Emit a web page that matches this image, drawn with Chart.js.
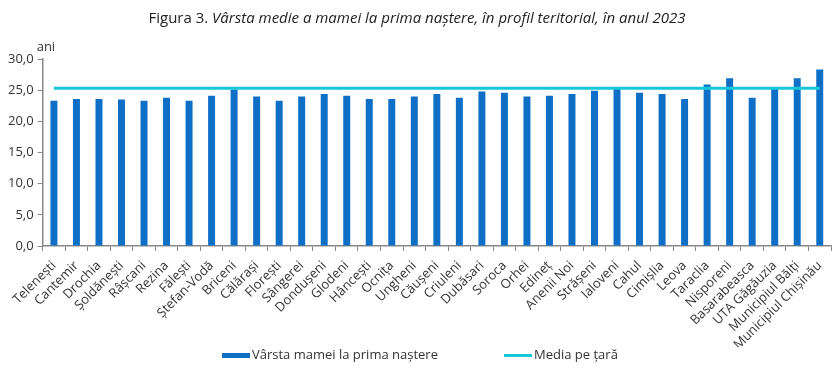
<!DOCTYPE html>
<html>
<head>
<meta charset="utf-8">
<script src="https://cdn.jsdelivr.net/npm/chart.js@4"></script>
<style>
    html, body { margin: 0; padding: 0; background: #fff; }
    #wrap { position: relative; width: 834px; height: 368px; }
    #title {
        position: absolute; top: 7px; left: 0; width: 834px; text-align: center;
        font-family: "Open Sans", sans-serif; font-size: 15px; color: #222;
    }
    #title i { font-style: italic; }
    #legend {
        position: absolute; top: 345px; left: 0; width: 834px; height: 20px;
        font-family: "Open Sans", sans-serif; font-size: 13px; color: #333;
    }
    .item { position: absolute; top: 0; line-height: 18px; white-space: nowrap; }
    .sw { display: inline-block; width: 28px; vertical-align: middle; margin-right: 2px; }
</style>
</head>
<body>
<div id="wrap">
    <div id="title">Figura 3. <i>Vârsta medie a mamei la prima naștere, în profil teritorial, în anul 2023</i></div>
    <canvas id="myChart" width="834" height="368"></canvas>
    <div id="legend"></div>
</div>
<script>
// Regions (raioane) in the order shown on the chart
const regions = [
    'Telenești', 'Cantemir', 'Drochia', 'Șoldănești', 'Râșcani', 'Rezina', 'Fălești',
    'Ștefan-Vodă', 'Briceni', 'Călărași', 'Florești', 'Sângerei', 'Dondușeni', 'Glodeni',
    'Hâncești', 'Ocnița', 'Ungheni', 'Căușeni', 'Criuleni', 'Dubăsari', 'Soroca', 'Orhei',
    'Edineț', 'Anenii Noi', 'Strășeni', 'Ialoveni', 'Cahul', 'Cimișlia', 'Leova', 'Taraclia',
    'Nisporeni', 'Basarabeasca', 'UTA Găgăuzia', 'Municipiul Bălți', 'Municipiul Chișinău'
];

// Mean age of mother at first birth (years)
const motherAge = [
    23.3, 23.6, 23.6, 23.5, 23.3, 23.8, 23.3,
    24.1, 25.1, 24.0, 23.3, 24.0, 24.4, 24.1,
    23.6, 23.6, 24.0, 24.4, 23.8, 24.8, 24.6, 24.0,
    24.1, 24.4, 24.9, 25.2, 24.6, 24.4, 23.6, 25.9,
    26.9, 23.8, 25.2, 26.9, 28.3
];

// Country average
const countryMean = 25.3;

const yTicks = [0, 5, 10, 15, 20, 25, 30];

const FONT = '"Open Sans", sans-serif';
const BAR_COLOR = '#0F6FC6';
const LINE_COLOR = '#17C8D8';

// small plugin for the "ani" unit label above the y axis
const unitLabel = {
    id: 'unitLabel',
    afterDraw(chart) {
        const c = chart.ctx;
        const area = chart.chartArea;
        c.save();
        c.font = '13px ' + FONT;
        c.fillStyle = '#333';
        c.textAlign = 'left';
        c.textBaseline = 'bottom';
        c.fillText('ani', area.left - 6, area.top - 5);
        c.restore();
    }
};

const ctx = document.getElementById('myChart').getContext('2d');

const chart = new Chart(ctx, {
    data: {
        labels: regions,
        datasets: [
            {
                type: 'line',
                label: 'Media pe țară',
                data: regions.map(() => countryMean),
                borderColor: LINE_COLOR,
                borderWidth: 3,
                pointRadius: 0,
                order: 0
            },
            {
                type: 'bar',
                label: 'Vârsta mamei la prima naștere',
                data: motherAge,
                backgroundColor: BAR_COLOR,
                barPercentage: 0.31,
                categoryPercentage: 1,
                order: 1
            }
        ]
    },
    options: {
        responsive: false,
        animation: false,
        layout: { padding: { top: 59, left: 4, right: 3, bottom: 21 } },
        scales: {
            x: {
                offset: true,
                afterFit(scale) {
                    // fixed label band; don't let rotated labels eat the plot width
                    scale.height = 101;
                    scale.paddingLeft = 0;
                    scale.paddingRight = 0;
                },
                grid: { drawOnChartArea: false, color: '#888', tickLength: 5, offset: true },
                border: { color: '#888', width: 1.5 },
                ticks: {
                    autoSkip: false,
                    maxRotation: 45,
                    minRotation: 45,
                    color: '#333',
                    padding: 7,
                    font: { family: FONT, size: 13 }
                }
            },
            y: {
                min: 0,
                max: 30,
                afterBuildTicks(axis) {
                    axis.ticks = yTicks.map(v => ({ value: v }));
                },
                grid: { drawOnChartArea: false, color: '#888', tickLength: 5 },
                border: { color: '#888', width: 1.5 },
                ticks: {
                    color: '#333',
                    padding: 4,
                    font: { family: FONT, size: 13 },
                    callback: v => v.toFixed(1).replace('.', ',')
                }
            }
        },
        plugins: {
            legend: { display: false },
            tooltip: { enabled: false }
        }
    },
    plugins: [unitLabel]
});

// legend below the chart, built from the datasets
const legend = document.getElementById('legend');
[
    { ds: chart.data.datasets[1], left: 222, h: 5 },
    { ds: chart.data.datasets[0], left: 504, h: 3 }
].forEach(it => {
    const item = document.createElement('div');
    item.className = 'item';
    item.style.left = it.left + 'px';
    const sw = document.createElement('span');
    sw.className = 'sw';
    sw.style.height = it.h + 'px';
    sw.style.background = it.ds.backgroundColor || it.ds.borderColor;
    item.appendChild(sw);
    item.appendChild(document.createTextNode(it.ds.label));
    legend.appendChild(item);
});
</script>
</body>
</html>
